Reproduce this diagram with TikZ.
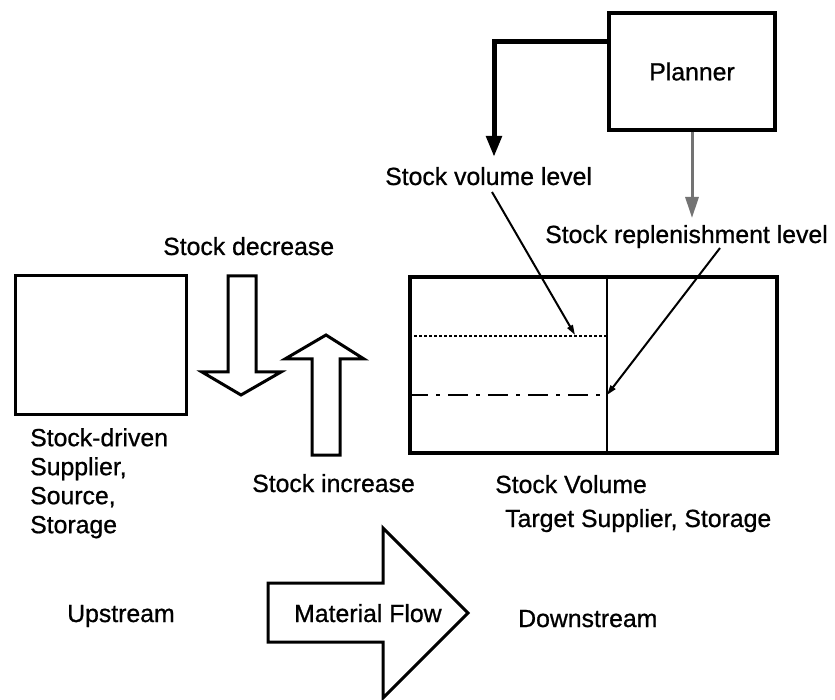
\documentclass[tikz,border=0pt]{standalone}
\usepackage{fontspec}
\newfontfamily\lbfont[FakeBold=0.8]{Liberation Sans}
\usetikzlibrary{arrows.meta}
\begin{document}
\begin{tikzpicture}[x=1pt,y=-1pt,
  lbl/.style={font=\lbfont\fontsize{24.8}{29}\selectfont, inner sep=0pt},
  boxline/.style={draw, line width=3.5pt},
  blockarrow/.style={draw, line width=3pt, fill=white, line join=miter},
  leader/.style={line width=2pt, -{Triangle[width=6pt,length=10pt]}},
  ctrl/.style={line width=5pt, -{Triangle[width=15pt,length=21pt]}},
  greyctrl/.style={draw=black!55, line width=3pt, -{Triangle[width=13pt,length=21pt]}}]
\useasboundingbox (0,0) rectangle (835,700);

% planner and its two control lines
\node[boxline, lbl, minimum width=166pt, minimum height=117pt] (planner) at (692,71.5) {Planner};
\coordinate (svltip) at (494,157);
\coordinate (srltip) at (692,218);
\draw[ctrl] (planner.west |- 0,42) -| (svltip);
\draw[greyctrl] (planner.south) -- (srltip);

% level labels
\node[lbl, anchor=base west] (svl) at (385,185) {Stock volume level};
\node[lbl, anchor=base west] (srl) at (545,243) {Stock replenishment level};

% supplier box
\node[draw, line width=3pt, minimum width=171pt, minimum height=138pt] (supplier) at (100.5,345) {};
\node[lbl, anchor=north west, align=left] (suptxt) at (30,428) {Stock-driven\\Supplier,\\Source,\\Storage};

% stock decrease / increase arrows
\node[lbl, anchor=base west] (dec) at (163,255) {Stock decrease};
\draw[blockarrow] (228,276) -- (256,276) -- (256,372) -- (281,372) -- (241,395) -- (202,372) -- (228,372) -- cycle;
\draw[blockarrow] (312,455) -- (340,455) -- (340,359) -- (364,359) -- (326,335) -- (285,359) -- (312,359) -- cycle;
\node[lbl, anchor=base west] (inc) at (252,492) {Stock increase};

% stock volume box with its levels
\node[draw, line width=4pt, minimum width=367pt, minimum height=176pt] (stock) at (593.5,365) {};
\draw[line width=2pt] (stock.north -| 607,0) -- (stock.south -| 607,0);
\coordinate (dotend) at (607,336);
\coordinate (dashend) at (607,395);
\draw[line width=2.5pt, dash pattern=on 3pt off 2pt] (dotend) -- (dotend -| stock.west);
\draw[line width=2.5pt, dash pattern=on 20pt off 8pt on 4pt off 8pt] (dashend -| stock.west) -- (dashend);
\coordinate (svlend) at (575,335);
\draw[leader] (492,192) -- (svlend);
\draw[leader] (720,248) -- (dashend);
\node[lbl, anchor=base west] (vol) at (495,493) {Stock Volume};
\node[lbl, anchor=base west] (target) at (505,527) {Target Supplier, Storage};

% material flow
\node[lbl, anchor=base west] (up) at (67,622) {Upstream};
\draw[blockarrow] (268,583) -- (383,583) -- (383,528) -- (468,613) -- (383,698) -- (383,642) -- (268,642) -- cycle;
\node[lbl, anchor=base west] (flow) at (294,622) {Material Flow};
\node[lbl, anchor=base west] (down) at (518,627) {Downstream};
\end{tikzpicture}
\end{document}
